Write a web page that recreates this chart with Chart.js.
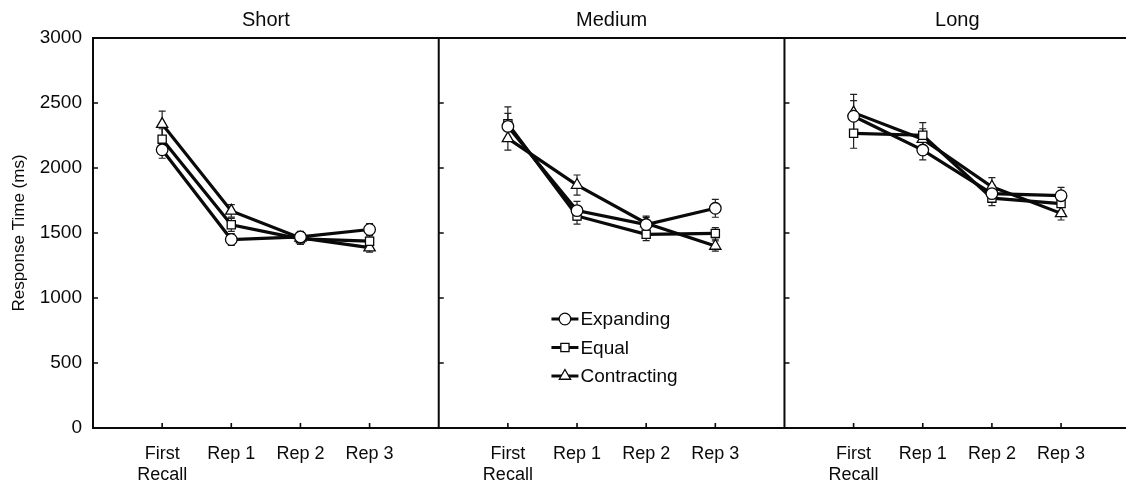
<!DOCTYPE html>
<html>
<head>
<meta charset="utf-8">
<script src="https://cdn.jsdelivr.net/npm/chart.js@4.4.1/dist/chart.umd.min.js"></script>
<style>
  html, body { margin: 0; padding: 0; background: #fff; overflow: hidden; }
  #wrap { width: 1138px; height: 482px; }
</style>
</head>
<body>
<div id="wrap"><canvas id="chart" width="1138" height="482"></canvas></div>
<script>
const panels = ["Short", "Medium", "Long"];
const categories = [["First", "Recall"], "Rep 1", "Rep 2", "Rep 3"];
const seriesNames = ["Expanding", "Equal", "Contracting"];
const pointStyles = ["circle", "rect", "triangle"];
const yTicks = [0, 500, 1000, 1500, 2000, 2500, 3000];

// 4 values per panel: Short, Medium, Long
const expandingMeans = [2140, 1450, 1470, 1527, 2320, 1672, 1565, 1690, 2398, 2138, 1803, 1787];
const expandingErrors = [65, 45, 40, 45, 100, 72, 55, 69, 120, 76, 65, 64];
const equalMeans = [2222, 1563, 1455, 1437, 2340, 1631, 1490, 1497, 2267, 2252, 1768, 1726];
const equalErrors = [80, 50, 40, 40, 130, 62, 48, 45, 115, 97, 57, 55];
const contractingMeans = [2338, 1670, 1462, 1388, 2228, 1869, 1575, 1400, 2426, 2222, 1856, 1651];
const contractingErrors = [100, 48, 50, 35, 90, 77, 55, 40, 140, 80, 70, 51];

const seriesMeans = [expandingMeans, equalMeans, contractingMeans];
const seriesErrors = [expandingErrors, equalErrors, contractingErrors];

const FONT = "'Liberation Sans', Arial, sans-serif";
const INK = "#0a0a0a";

// each panel takes 5 units on the x axis, categories sit at 1..4
const tickPositions = [];
panels.forEach((p, pi) => categories.forEach((c, ci) => tickPositions.push(pi * 5 + ci + 1)));

const datasets = [];
seriesNames.forEach((name, si) => {
  panels.forEach((panel, pi) => {
    datasets.push({
      label: name,
      data: categories.map((c, ci) => ({ x: pi * 5 + ci + 1, y: seriesMeans[si][pi * 4 + ci] })),
      errors: seriesErrors[si].slice(pi * 4, pi * 4 + 4),
      borderColor: INK,
      borderWidth: 3.2,
      tension: 0,
      pointStyle: pointStyles[si],
      pointRadius: si === 2 ? 6.5 : 5.8,
      pointBackgroundColor: "#fff",
      pointBorderColor: INK,
      pointBorderWidth: 1.3
    });
  });
});

const errorBarPlugin = {
  id: "errorBars",
  beforeDatasetsDraw(chart) {
    const { ctx, scales: { y } } = chart;
    ctx.save();
    ctx.strokeStyle = "#222";
    ctx.lineWidth = 1.2;
    chart.data.datasets.forEach((ds, di) => {
      const meta = chart.getDatasetMeta(di);
      meta.data.forEach((pt, i) => {
        const v = ds.data[i].y;
        const e = ds.errors[i];
        const top = y.getPixelForValue(v + e);
        const bot = y.getPixelForValue(v - e);
        ctx.beginPath();
        ctx.moveTo(pt.x, top); ctx.lineTo(pt.x, bot);
        ctx.moveTo(pt.x - 3.5, top); ctx.lineTo(pt.x + 3.5, top);
        ctx.moveTo(pt.x - 3.5, bot); ctx.lineTo(pt.x + 3.5, bot);
        ctx.stroke();
      });
    });
    ctx.restore();
  }
};

const framePlugin = {
  id: "frame",
  beforeDatasetsDraw(chart) {
    const { ctx, chartArea, scales: { x, y } } = chart;
    const top = y.getPixelForValue(yTicks[yTicks.length - 1]);
    const bottom = y.getPixelForValue(0);
    ctx.save();
    ctx.strokeStyle = INK;
    ctx.lineWidth = 2;
    ctx.beginPath();
    ctx.moveTo(x.getPixelForValue(0) - 1, top); ctx.lineTo(chartArea.right + 10, top);
    ctx.moveTo(x.getPixelForValue(0) - 1, bottom); ctx.lineTo(chartArea.right + 10, bottom);
    panels.forEach((p, pi) => {
      const px = x.getPixelForValue(pi * 5);
      ctx.moveTo(px, top); ctx.lineTo(px, bottom);
    });
    ctx.stroke();

    // inward tick marks
    ctx.lineWidth = 1.6;
    ctx.beginPath();
    panels.forEach((p, pi) => {
      const px = x.getPixelForValue(pi * 5);
      yTicks.slice(1, -1).forEach(v => {
        const py = y.getPixelForValue(v);
        ctx.moveTo(px, py); ctx.lineTo(px + 5, py);
      });
    });
    tickPositions.forEach(v => {
      const px = x.getPixelForValue(v);
      ctx.moveTo(px, bottom); ctx.lineTo(px, bottom - 5);
    });
    ctx.stroke();
    ctx.restore();
  },
  afterDraw(chart) {
    const { ctx, chartArea, scales: { x } } = chart;
    ctx.save();
    ctx.fillStyle = INK;
    ctx.font = "20px " + FONT;
    ctx.textAlign = "center";
    ctx.textBaseline = "middle";
    panels.forEach((p, pi) => {
      ctx.fillText(p, x.getPixelForValue(pi * 5 + 2.5), 20);
    });

    // legend inside the middle panel
    const lx = x.getPixelForValue(6.63);
    const ly = chartArea.top + 281;
    seriesNames.forEach((name, si) => {
      const cy = ly + si * 28.5;
      ctx.strokeStyle = INK;
      ctx.lineWidth = 3;
      ctx.beginPath();
      ctx.moveTo(lx, cy); ctx.lineTo(lx + 27, cy);
      ctx.stroke();
      ctx.fillStyle = "#fff";
      ctx.lineWidth = 1.3;
      Chart.helpers.drawPoint(ctx, {
        pointStyle: pointStyles[si], rotation: 0,
        radius: si === 2 ? 6.5 : 5.8, borderWidth: 1.3
      }, lx + 13.5, cy);
      ctx.fillStyle = INK;
      ctx.font = "19px " + FONT;
      ctx.textAlign = "left";
      ctx.fillText(name, lx + 29, cy + 1);
    });
    ctx.restore();
  }
};

new Chart(document.getElementById("chart"), {
  type: "line",
  data: { datasets },
  plugins: [errorBarPlugin, framePlugin],
  options: {
    responsive: false,
    animation: false,
    layout: { padding: { top: 38, right: 0, left: 0, bottom: 0 } },
    plugins: { legend: { display: false }, tooltip: { enabled: false } },
    scales: {
      x: {
        type: "linear",
        min: 0,
        max: 15,
        afterBuildTicks: (scale) => { scale.ticks = tickPositions.map(v => ({ value: v })); },
        afterFit: (scale) => { scale.height = 54; },
        grid: { display: false, drawTicks: false },
        border: { display: false },
        ticks: {
          autoSkip: false,
          maxRotation: 0,
          padding: 15,
          color: INK,
          font: { family: FONT, size: 18, lineHeight: 1.18 },
          callback: (v) => categories[(v - 1) % 5]
        }
      },
      y: {
        min: 0,
        max: 3000,
        afterBuildTicks: (scale) => { scale.ticks = yTicks.map(v => ({ value: v })); },
        afterFit: (scale) => { scale.width = 93; },
        grid: { display: false, drawTicks: false },
        border: { display: false },
        ticks: {
          padding: 11,
          color: INK,
          font: { family: FONT, size: 19 },
          callback: (v) => String(v)
        },
        title: {
          display: true,
          text: "Response Time (ms)",
          color: INK,
          font: { family: FONT, size: 17 },
          padding: { top: 9, bottom: 0 }
        }
      }
    }
  }
});
</script>
</body>
</html>
